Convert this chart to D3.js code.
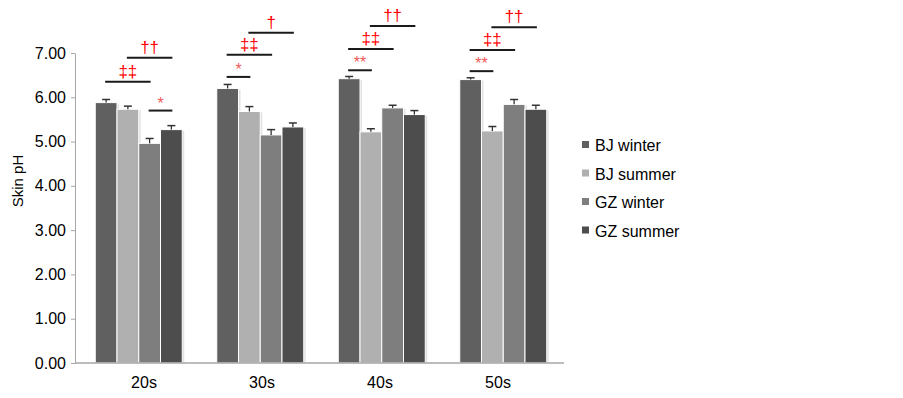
<!DOCTYPE html>
<html lang="en">
<head>
<meta charset="utf-8">
<title>Skin pH by age group</title>
<script src="https://d3js.org/d3.v7.min.js"></script>
<style>
  body { margin: 0; background: #fff; }
  text { font-family: Arial, "Liberation Sans", sans-serif; fill: #000; }
  .axis path, .axis line { stroke: #a6a6a6; }
  .axis text { font-size: 16px; }
</style>
</head>
<body>
<script>
// chart data
const ageGroups = ["20s", "30s", "40s", "50s"];
const seriesNames = ["BJ winter", "BJ summer", "GZ winter", "GZ summer"];
const meanPH = [
  [5.88, 5.73, 4.96, 5.27],
  [6.20, 5.68, 5.15, 5.33],
  [6.42, 5.22, 5.76, 5.61],
  [6.40, 5.24, 5.84, 5.73]
];
const errPH = [
  [0.07, 0.07, 0.11, 0.09],
  [0.09, 0.11, 0.12, 0.09],
  [0.05, 0.07, 0.06, 0.09],
  [0.04, 0.10, 0.11, 0.09]
];
const yTicks = [0, 1, 2, 3, 4, 5, 6, 7];
// significance brackets: group, from bar, to bar, height (pH units), mark
const sigMarks = [
  ["20s", 0, 2, 6.35, "‡‡"], ["20s", 1, 3, 6.89, "††"], ["20s", 2, 3, 5.70, "*"],
  ["30s", 0, 1, 6.46, "*"], ["30s", 0, 2, 6.96, "‡‡"], ["30s", 1, 3, 7.46, "†"],
  ["40s", 0, 1, 6.61, "**"], ["40s", 0, 2, 7.09, "‡‡"], ["40s", 1, 3, 7.61, "††"],
  ["50s", 0, 1, 6.59, "**"], ["50s", 0, 2, 7.07, "‡‡"], ["50s", 1, 3, 7.58, "††"]
];

const w = 903, h = 398;
const colors = ["#606060", "#b0b0b0", "#7e7e7e", "#4d4d4d"];

const svg = d3.select("body").append("svg")
  .attr("width", w).attr("height", h);

// scales
const x0 = d3.scaleBand().domain(ageGroups).range([78, 564])
  .paddingInner(0.284).paddingOuter(0.142);
const x1 = d3.scaleBand().domain(d3.range(seriesNames.length))
  .range([0, x0.bandwidth()]);
const yScale = d3.scaleLinear().domain([0, 7]).range([363, 53]);
// category labels sit slightly differently from the bar groups in the original
const xLab = d3.scaleBand().domain(ageGroups).range([85, 557]);

// y axis
svg.append("g")
  .attr("class", "axis")
  .attr("transform", "translate(75,0)")
  .call(d3.axisLeft(yScale).tickValues(yTicks).tickFormat(d3.format(".2f"))
    .tickSize(4).tickSizeOuter(0).tickPadding(5))
  .call(g => g.selectAll("text").attr("fill", "#000"));

// bars
const groups = svg.append("g").selectAll("g")
  .data(ageGroups)
  .join("g")
  .attr("transform", d => `translate(${x0(d)},0)`);

groups.each(function (grp, gi) {
  const g = d3.select(this);
  const vals = meanPH[gi].map((v, i) => ({ i, v, e: errPH[gi][i] }));

  // soft shadow
  g.selectAll("rect.shadow").data(vals).join("rect")
    .attr("class", "shadow")
    .attr("x", d => x1(d.i) + 2)
    .attr("y", d => yScale(d.v) + 1)
    .attr("width", x1.bandwidth())
    .attr("height", d => yScale(0) - yScale(d.v) - 1)
    .attr("fill", "#e2e2e2");

  g.selectAll("rect.bar").data(vals).join("rect")
    .attr("class", "bar")
    .attr("x", d => x1(d.i))
    .attr("y", d => yScale(d.v))
    .attr("width", x1.bandwidth())
    .attr("height", d => yScale(0) - yScale(d.v))
    .attr("fill", d => colors[d.i])
    .attr("stroke", "#fff")
    .attr("stroke-width", 1);

  // error bars (upper half only)
  const cx = d => x1(d.i) + x1.bandwidth() / 2;
  g.selectAll("line.err").data(vals).join("line")
    .attr("class", "err")
    .attr("x1", cx).attr("x2", cx)
    .attr("y1", d => yScale(d.v)).attr("y2", d => yScale(d.v + d.e))
    .attr("stroke", "#333").attr("stroke-width", 1.3);
  g.selectAll("line.cap").data(vals).join("line")
    .attr("class", "cap")
    .attr("x1", d => cx(d) - 4).attr("x2", d => cx(d) + 4)
    .attr("y1", d => yScale(d.v + d.e)).attr("y2", d => yScale(d.v + d.e))
    .attr("stroke", "#333").attr("stroke-width", 1.5);
});

// x baseline
svg.append("line")
  .attr("x1", 75).attr("x2", 564)
  .attr("y1", yScale(0)).attr("y2", yScale(0))
  .attr("stroke", "#a6a6a6").attr("stroke-width", 1.5);

// x labels
svg.append("g")
  .attr("class", "axis")
  .attr("transform", `translate(0,${yScale(0) + 14})`)
  .call(d3.axisBottom(xLab).tickSize(0).tickPadding(0))
  .call(g => g.select(".domain").remove())
  .call(g => g.selectAll("text").attr("fill", "#000"));

// significance brackets
const barCenter = (grp, i) => x0(grp) + x1(i) + x1.bandwidth() / 2;
const sig = svg.append("g").selectAll("g").data(sigMarks).join("g");
sig.append("line")
  .attr("x1", d => barCenter(d[0], d[1]) - 1)
  .attr("x2", d => barCenter(d[0], d[2]) + 1)
  .attr("y1", d => yScale(d[3])).attr("y2", d => yScale(d[3]))
  .attr("stroke", "#1a1a1a").attr("stroke-width", 2);
sig.append("text")
  .attr("x", d => (barCenter(d[0], d[1]) + barCenter(d[0], d[2])) / 2)
  .attr("y", d => yScale(d[3]) - (d[4].includes("*") ? 2 : 5))
  .attr("text-anchor", "middle")
  .style("font-size", d => d[4].includes("*") ? "16px" : "17px")
  .style("fill", d => d[4].includes("*") ? "#f05a5a" : "#ff0000")
  .text(d => d[4]);

// y axis label
svg.append("text")
  .attr("transform", "translate(23,181) rotate(-90)")
  .attr("text-anchor", "middle")
  .style("font-size", "15px")
  .text("Skin pH");

// legend
const legend = svg.append("g").selectAll("g")
  .data(seriesNames)
  .join("g")
  .attr("transform", (d, i) => `translate(582,${145 + i * 28.5})`);
legend.append("rect")
  .attr("x", 0).attr("y", -4).attr("width", 7).attr("height", 7)
  .attr("fill", (d, i) => colors[i]);
legend.append("text")
  .attr("x", 13).attr("y", 6)
  .style("font-size", "16px")
  .text(d => d);
</script>
</body>
</html>
